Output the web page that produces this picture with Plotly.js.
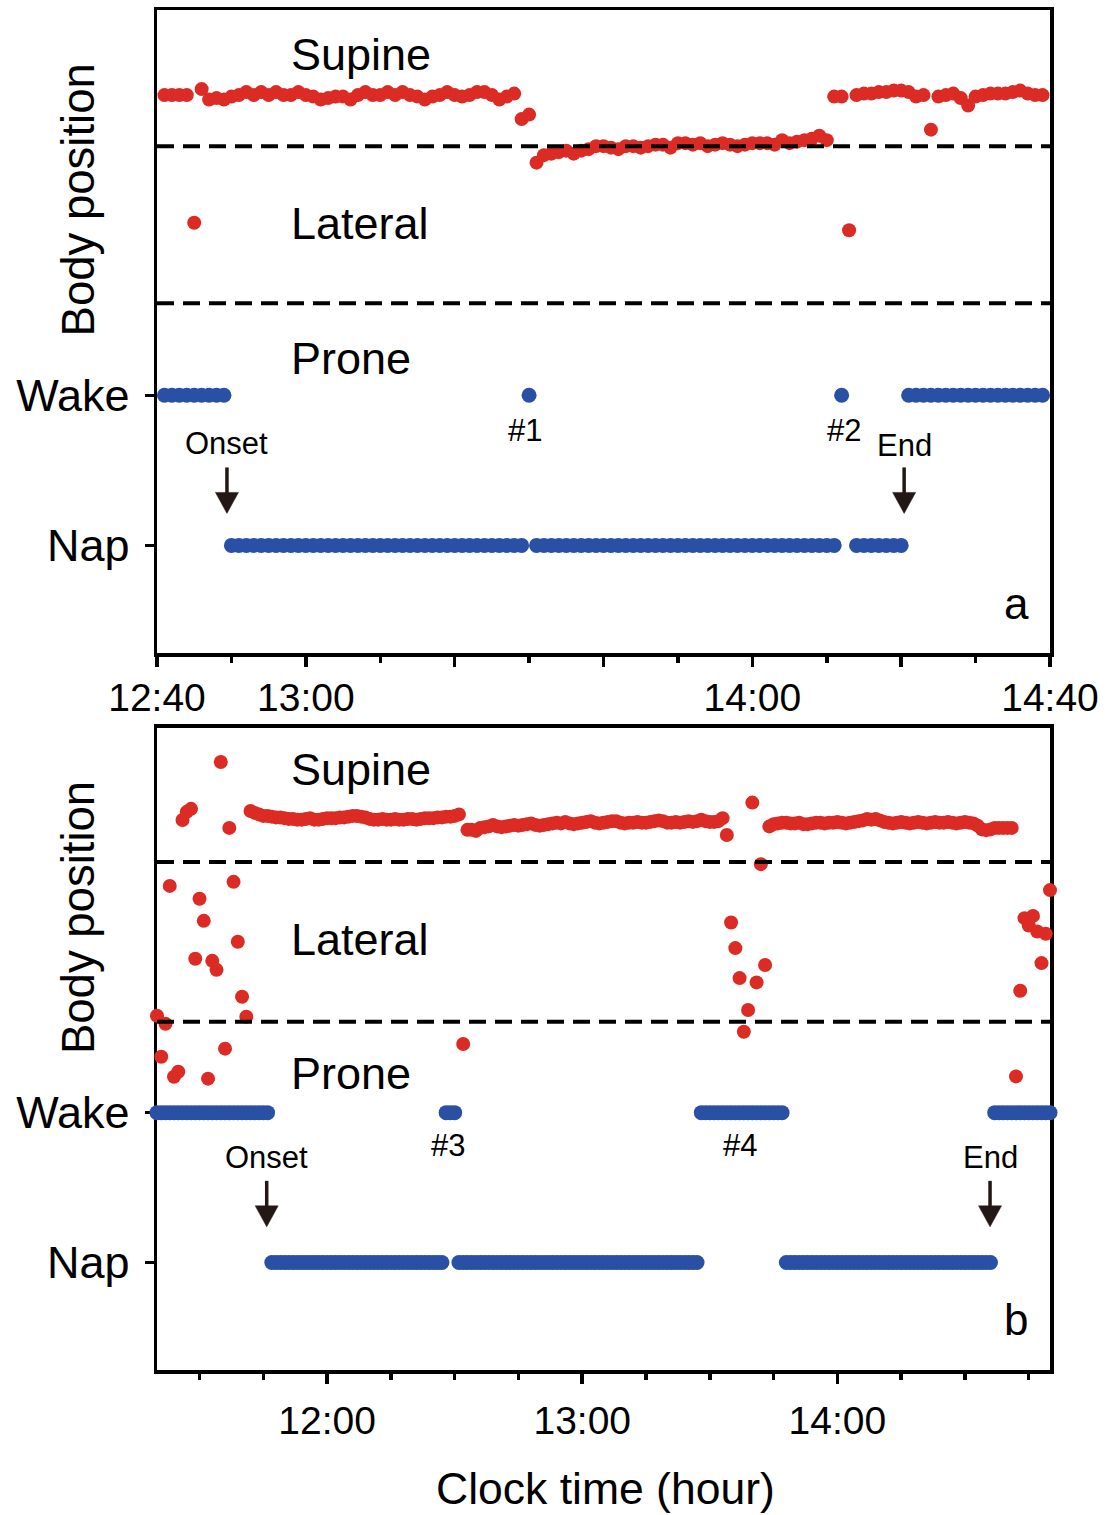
<!DOCTYPE html>
<html>
<head>
<meta charset="utf-8">
<script src="https://cdn.plot.ly/plotly-3.0.1.min.js"></script>
<style>html,body{margin:0;padding:0;background:#fff}#chart{width:1109px;height:1515px}</style>
</head>
<body>
<div id="chart"></div>
<script>
// ---------------- DATA ----------------
// Times are minutes after midnight; one epoch per minute.
// Panel a: 12:40 - 14:40
const startA = 760;
// Sleep/wake stage per epoch: W = wake, N = nap, - = no epoch
const stageA = [
  '-WWWWWWWWW', // 12:40
  'NNNNNNNNNN', // 12:50
  'NNNNNNNNNN', // 13:00
  'NNNNNNNNNN', // 13:10
  'NNNNNNNNNN', // 13:20
  'WNNNNNNNNN', // 13:30
  'NNNNNNNNNN', // 13:40
  'NNNNNNNNNN', // 13:50
  'NNNNNNNNNN', // 14:00
  'NNW-NNNNNN', // 14:10
  'NWWWWWWWWW', // 14:20
  'WWWWWWWWWW'  // 14:30
].join('');
// Body position signal per epoch (same vertical scale as the stage axis)
const bodyA = [
  null, 3.00, 3.00, 3.00, 3.00, 2.15, 3.04, 2.97, 2.98, 2.97,
  2.99, 3.00, 3.02, 3.00, 3.02, 3.00, 3.02, 3.00, 3.00, 3.02,
  3.00, 2.99, 2.97, 2.98, 2.99, 2.99, 2.97, 3.00, 3.02, 3.00,
  3.00, 3.02, 3.00, 3.02, 3.00, 2.99, 2.97, 2.99, 3.00, 3.02,
  3.00, 2.99, 3.00, 3.02, 3.02, 3.00, 2.97, 2.99, 3.01, 2.84,
  2.87, 2.55, 2.60, 2.61, 2.62, 2.63, 2.61, 2.63, 2.64, 2.66,
  2.66, 2.65, 2.64, 2.66, 2.66, 2.65, 2.66, 2.67, 2.67, 2.65,
  2.68, 2.68, 2.67, 2.68, 2.66, 2.67, 2.68, 2.67, 2.66, 2.67,
  2.68, 2.68, 2.68, 2.67, 2.70, 2.68, 2.69, 2.70, 2.71, 2.73,
  2.70, 2.99, 2.99, 2.10, 3.00, 3.01, 3.01, 3.02, 3.02, 3.03,
  3.03, 3.02, 2.99, 3.00, 2.77, 2.99, 3.00, 3.01, 2.98, 2.93,
  2.99, 3.00, 3.01, 3.01, 3.01, 3.02, 3.03, 3.01, 3.00, 3.00
];
const boundsA = [1.613, 2.66];          // prone|lateral, lateral|supine
const onsetA = 769.4, endA = 860.4;     // nap onset / end
const wakeTimesA = [809.5, 852.3];      // #1, #2
const wakeNamesA = ['#1', '#2'];

// Panel b: 11:20 - 14:50
const startB = 680;
const stageB = [
  'WWWWWWWWWW', // 11:20
  'WWWWWWWWWW', // 11:30
  'WWWWWWWNNN', // 11:40
  'NNNNNNNNNN', // 11:50
  'NNNNNNNNNN', // 12:00
  'NNNNNNNNNN', // 12:10
  'NNNNNNNNWW', // 12:20
  'WNNNNNNNNN', // 12:30
  'NNNNNNNNNN', // 12:40
  'NNNNNNNNNN', // 12:50
  'NNNNNNNNNN', // 13:00
  'NNNNNNNNNN', // 13:10
  'NNNNNNNNWW', // 13:20
  'WWWWWWWWWW', // 13:30
  'WWWWWWWWNN', // 13:40
  'NNNNNNNNNN', // 13:50
  'NNNNNNNNNN', // 14:00
  'NNNNNNNNNN', // 14:10
  'NNNNNNNNNN', // 14:20
  'NNNNNNNWWW', // 14:30
  'WWWWWWWWWW', // 14:40
  'W'           // 14:50
].join('');
const bodyB = [
  1.647, 1.373, 1.593, 2.513, 1.240, 1.273, 2.953, 3.007, 3.027, 2.027,
  2.427, 2.280, 1.227, 2.013, 1.953, 3.340, 1.427, 2.900, 2.540, 2.140,
  1.773, 1.640, 3.013, 3.000, 2.990, 2.980, 2.980, 2.975, 2.970, 2.970,
  2.965, 2.960, 2.960, 2.955, 2.955, 2.960, 2.965, 2.955, 2.955, 2.960,
  2.965, 2.965, 2.965, 2.970, 2.970, 2.975, 2.980, 2.980, 2.975, 2.970,
  2.960, 2.955, 2.955, 2.960, 2.955, 2.955, 2.960, 2.955, 2.955, 2.960,
  2.960, 2.955, 2.960, 2.965, 2.965, 2.965, 2.970, 2.970, 2.975, 2.975,
  2.980, 2.990, 1.458, 2.887, 2.887, 2.880, 2.900, 2.905, 2.910, 2.920,
  2.910, 2.905, 2.910, 2.915, 2.920, 2.915, 2.920, 2.925, 2.930, 2.920,
  2.915, 2.920, 2.925, 2.930, 2.935, 2.930, 2.940, 2.930, 2.925, 2.930,
  2.935, 2.940, 2.945, 2.935, 2.930, 2.935, 2.940, 2.945, 2.945, 2.935,
  2.930, 2.935, 2.935, 2.940, 2.935, 2.935, 2.940, 2.945, 2.950, 2.945,
  2.935, 2.935, 2.940, 2.935, 2.940, 2.945, 2.940, 2.945, 2.955, 2.945,
  2.940, 2.940, 2.945, 2.965, 2.853, 2.269, 2.098, 1.898, 1.540, 1.685,
  3.069, 1.869, 2.658, 1.985, 2.910, 2.925, 2.930, 2.935, 2.935, 2.930,
  2.930, 2.935, 2.925, 2.925, 2.930, 2.935, 2.935, 2.930, 2.935, 2.935,
  2.940, 2.935, 2.930, 2.935, 2.940, 2.945, 2.950, 2.960, 2.955, 2.960,
  2.950, 2.940, 2.935, 2.930, 2.935, 2.940, 2.935, 2.930, 2.935, 2.940,
  2.935, 2.930, 2.935, 2.940, 2.935, 2.935, 2.940, 2.935, 2.930, 2.935,
  2.940, 2.935, 2.930, 2.915, 2.890, 2.885, 2.890, 2.900, 2.900, 2.900,
  2.900, 2.900, 1.242, 1.813, 2.298, 2.249, 2.313, 2.209, 1.998, 2.193,
  2.485
];
const boundsB = [1.607, 2.673];
const onsetB = 705.8, endB = 875.9;
const wakeTimesB = [748.4, 817.0];      // #3, #4
const wakeNamesB = ['#3', '#4'];

const stageLevels = {Nap: 0, Wake: 1};
const stageNames = ['Nap', 'Wake'];
const regionNames = ['Supine', 'Lateral', 'Prone'];

// x tick labels
const majorA = [760, 780, 800, 820, 840, 860, 880];
const majorTextA = ['12:40', '13:00', '', '', '14:00', '', '14:40'];
const minorA = [770, 790, 810, 830, 850, 870];
const majorB = [720, 780, 840];
const majorTextB = ['12:00', '13:00', '14:00'];
const minorB = [690, 705, 735, 750, 765, 795, 810, 825, 855, 870, 885];

// ---------------- STYLE ----------------
const RED = '#DC2B24';
const BLUE = '#2A50A6';
const ARROW = '#231815';
const FONT = 'Liberation Sans, Arial, Helvetica, sans-serif';

function stageTrace(start, codes, xa, ya) {
  const x = [], y = [];
  for (let i = 0; i < codes.length; i++) {
    const c = codes[i];
    if (c === 'W') { x.push(start + i); y.push(stageLevels.Wake); }
    else if (c === 'N') { x.push(start + i); y.push(stageLevels.Nap); }
  }
  return {type: 'scatter', mode: 'markers', x, y, xaxis: xa, yaxis: ya,
    marker: {color: BLUE, size: 15, line: {width: 0}}, cliponaxis: false,
    hoverinfo: 'skip', showlegend: false};
}
function bodyTrace(start, vals, xa, ya) {
  return {type: 'scatter', mode: 'markers',
    x: vals.map((v, i) => start + i), y: vals, xaxis: xa, yaxis: ya,
    marker: {color: RED, size: 14, line: {width: 0}}, cliponaxis: false,
    hoverinfo: 'skip', showlegend: false};
}

const data = [
  stageTrace(startA, stageA, 'x', 'y'),
  bodyTrace(startA, bodyA, 'x', 'y'),
  stageTrace(startB, stageB, 'x2', 'y2'),
  bodyTrace(startB, bodyB, 'x2', 'y2')
];

const yRange = [-0.717, 3.567];
function xAxis(range, tv, tt, minor, anchor, standoff) {
  return {
    domain: [0, 1], anchor: anchor, range: range,
    tickmode: 'array', tickvals: tv, ticktext: tt,
    ticks: 'outside', ticklen: 10, tickwidth: 3.5, tickcolor: '#000',
    minor: {tickmode: 'array', tickvals: minor, ticks: 'outside', ticklen: 6,
            tickwidth: 3.5, tickcolor: '#000', showgrid: false},
    showline: true, linewidth: 3.5, linecolor: '#000', mirror: true,
    showgrid: false, zeroline: false, layer: 'below traces',
    tickfont: {family: FONT, size: 39, color: '#000'},
    ticklabelstandoff: standoff, fixedrange: true
  };
}
function yAxis(domain, anchor) {
  return {
    domain: domain, anchor: anchor, range: yRange,
    tickmode: 'array', tickvals: [stageLevels.Nap, stageLevels.Wake], ticktext: stageNames,
    ticks: 'outside', ticklen: 9, tickwidth: 3.5, tickcolor: '#000',
    showline: true, linewidth: 3.5, linecolor: '#000', mirror: true,
    showgrid: false, zeroline: false, layer: 'below traces',
    tickfont: {family: FONT, size: 45, color: '#000'},
    ticklabelstandoff: 6, fixedrange: true
  };
}

const shapes = [];
const annotations = [];
function panel(xa, ya, bounds, onset, end, wakeTimes, wakeNames, cfg) {
  const xd = xa + ' domain';
  bounds.forEach(b => shapes.push({type: 'line', xref: xd, yref: ya, x0: 0, x1: 1, y0: b, y1: b,
    line: {color: '#000', width: 4, dash: '17px,9px'}}));
  [onset, end].forEach(t => {
    shapes.push({type: 'line', xref: xa, yref: ya, xsizemode: 'pixel', ysizemode: 'pixel',
      xanchor: t, yanchor: cfg.tipY, x0: 0, x1: 0, y0: 18, y1: cfg.arrowLen,
      line: {color: ARROW, width: 3.5}});
    shapes.push({type: 'path', xref: xa, yref: ya, xsizemode: 'pixel', ysizemode: 'pixel',
      xanchor: t, yanchor: cfg.tipY, path: 'M -11.5 21 L 11.5 21 L 0 0 Z',
      fillcolor: ARROW, line: {color: ARROW, width: 0.5}});
  });
  const small = {family: FONT, size: 31, color: '#000'};
  annotations.push({xref: xa, yref: ya, x: onset, y: cfg.onsetTextY, text: 'Onset', showarrow: false, font: small});
  annotations.push({xref: xa, yref: ya, x: end, y: cfg.endTextY, text: 'End', showarrow: false, font: small});
  wakeTimes.forEach((t, i) => annotations.push({xref: xa, yref: ya, x: t, y: cfg.hashY, text: wakeNames[i], showarrow: false, font: small}));
  const big = {family: FONT, size: 45, color: '#000'};
  regionNames.forEach((n, i) => annotations.push({xref: xd, yref: ya, x: 0.148, y: cfg.regionY[i],
    xanchor: 'left', text: n, showarrow: false, font: big}));
  annotations.push({xref: 'paper', yref: ya, x: -0.0885, y: 2.305, xanchor: 'center', yanchor: 'middle',
    text: 'Body position', textangle: -90,
    showarrow: false, font: {family: FONT, size: 45.5, color: '#000'}});
  annotations.push({xref: xd, yref: ya, x: 0.962, y: cfg.letterY, xanchor: 'center', yanchor: 'middle',
    text: cfg.letter, showarrow: false, font: {family: FONT, size: 44, color: '#000'}});
}
panel('x', 'y', boundsA, onsetA, endA, wakeTimesA, wakeNamesA,
  {tipY: 0.213, arrowLen: 46, onsetTextY: 0.68, endTextY: 0.667, hashY: 0.767,
   regionY: [3.273, 2.147, 1.247], letterY: -0.39, letter: 'a'});
panel('x2', 'y2', boundsB, onsetB, endB, wakeTimesB, wakeNamesB,
  {tipY: 0.238, arrowLen: 46, onsetTextY: 0.70, endTextY: 0.70, hashY: 0.78,
   regionY: [3.287, 2.153, 1.26], letterY: -0.38, letter: 'b'});
annotations.push({xref: 'paper', yref: 'paper', x: 0.5017, y: -0.0868, xanchor: 'center', yanchor: 'middle',
  text: 'Clock time (hour)', showarrow: false, borderpad: 0,
  font: {family: FONT, size: 44.5, color: '#000'}});

const layout = {
  width: 1109, height: 1515,
  margin: {l: 157, r: 59, t: 10, b: 145, pad: 0},
  paper_bgcolor: '#fff', plot_bgcolor: '#fff',
  font: {family: FONT, color: '#000'},
  showlegend: false,
  xaxis: xAxis([760, 880], majorA, majorTextA, minorA, 'y', -2),
  yaxis: yAxis([0.5272, 1], 'x'),
  xaxis2: xAxis([680, 890], majorB, majorTextB, minorB, 'y2', 4),
  yaxis2: yAxis([0, 0.4721], 'x2'),
  shapes: shapes,
  annotations: annotations
};

Plotly.newPlot('chart', data, layout, {displayModeBar: false, staticPlot: true});
</script>
</body>
</html>
